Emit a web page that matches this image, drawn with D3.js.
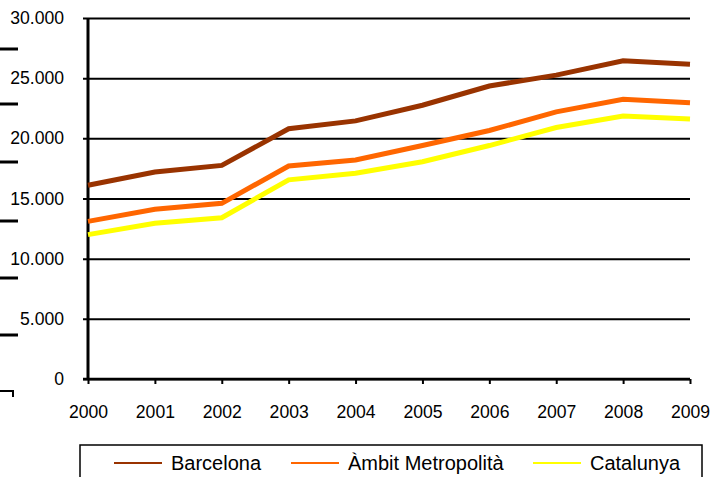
<!DOCTYPE html>
<html>
<head>
<meta charset="utf-8">
<script src="https://cdn.jsdelivr.net/npm/d3@7/dist/d3.min.js"></script>
<style>
  body { margin: 0; background: #fff; }
  text { font-family: "Liberation Sans", Arial, sans-serif; fill: #000; }
</style>
</head>
<body>
<div id="chart"></div>
<script>
var years = [2000, 2001, 2002, 2003, 2004, 2005, 2006, 2007, 2008, 2009];
var barcelona = [16100, 17200, 17750, 20800, 21450, 22750, 24350, 25250, 26450, 26150];
var ambit = [13100, 14100, 14600, 17700, 18200, 19400, 20650, 22200, 23250, 22950];
var catalunya = [12000, 12950, 13400, 16550, 17100, 18050, 19400, 20900, 21850, 21600];
var seriesNames = ["Barcelona", "\u00C0mbit Metropolit\u00E0", "Catalunya"];
var yTicks = [0, 5000, 10000, 15000, 20000, 25000, 30000];

function segColor(c) {
    var color = ["#993300", "#FF6600", "#FFFF00"];
    return color[c % 3];
}

var W = 712, H = 477;
var svg = d3.select("#chart").append("svg")
    .attr("width", W).attr("height", H);

var x = d3.scaleLinear().domain([years[0], years[years.length - 1]]).range([88, 690]);
var y = d3.scaleLinear().domain([0, 30000]).range([379, 18]);

var fmt = function(v) { return v === 0 ? "0" : d3.format(",")(v).replace(/,/g, "."); };

// gridlines + y labels
var yAxis = d3.axisLeft(y).tickValues(yTicks).tickSize(-(690 - 83)).tickFormat(fmt).tickPadding(0);
var gy = svg.append("g").attr("transform", "translate(83,0)").call(yAxis);
gy.select(".domain").remove();
gy.selectAll(".tick line").attr("x1", 0).attr("stroke", "#000").attr("stroke-width", 2);
gy.selectAll(".tick text").attr("x", -19).attr("font-size", "17.6px")
    .attr("font-family", "Liberation Sans, Arial, sans-serif").attr("fill", "#000");

// left axis line
svg.append("line").attr("x1", 88).attr("x2", 88).attr("y1", 18).attr("y2", 379)
    .attr("stroke", "#000").attr("stroke-width", 3);

// x axis
var xAxis = d3.axisBottom(x).tickValues(years).tickFormat(d3.format("d")).tickSize(5).tickSizeOuter(0).tickPadding(22);
var gx = svg.append("g").attr("transform", "translate(0,379)").call(xAxis);
gx.select(".domain").attr("stroke", "#000").attr("stroke-width", 2.5)
    .attr("d", "M83,0H690");
gx.selectAll(".tick line").attr("stroke", "#000").attr("stroke-width", 2);
gx.selectAll(".tick text").attr("font-size", "17.6px")
    .attr("font-family", "Liberation Sans, Arial, sans-serif").attr("fill", "#000");

// stray marks on the left edge
var marks = [49, 104, 162, 221, 278, 335];
svg.selectAll(".mark").data(marks).enter().append("line")
    .attr("x1", 0).attr("x2", 18).attr("y1", function(d) { return d; }).attr("y2", function(d) { return d; })
    .attr("stroke", "#000").attr("stroke-width", 3);
svg.append("path").attr("d", "M0,391H13V397").attr("fill", "none")
    .attr("stroke", "#000").attr("stroke-width", 2);

// lines
var data = [barcelona, ambit, catalunya];
var line = d3.line().x(function(d, i) { return x(years[i]); }).y(function(d) { return y(d); });
svg.selectAll(".series").data(data).enter().append("path")
    .attr("d", line)
    .attr("fill", "none")
    .attr("stroke", function(d, i) { return segColor(i); })
    .attr("stroke-width", 5)
    .attr("stroke-linejoin", "miter");

// legend
svg.append("rect").attr("x", 80).attr("y", 445).attr("width", 622).attr("height", 60)
    .attr("fill", "none").attr("stroke", "#000").attr("stroke-width", 1.5);
var legX = [114, 291, 533];
var leg = svg.selectAll(".leg").data(seriesNames).enter().append("g")
    .attr("transform", function(d, i) { return "translate(" + legX[i] + ",0)"; });
leg.append("line").attr("x1", 0).attr("x2", 48).attr("y1", 463).attr("y2", 463)
    .attr("stroke", function(d, i) { return segColor(i); }).attr("stroke-width", 2);
leg.append("text").attr("x", 57).attr("y", 470).attr("font-size", "20px").text(function(d) { return d; });
</script>
</body>
</html>
